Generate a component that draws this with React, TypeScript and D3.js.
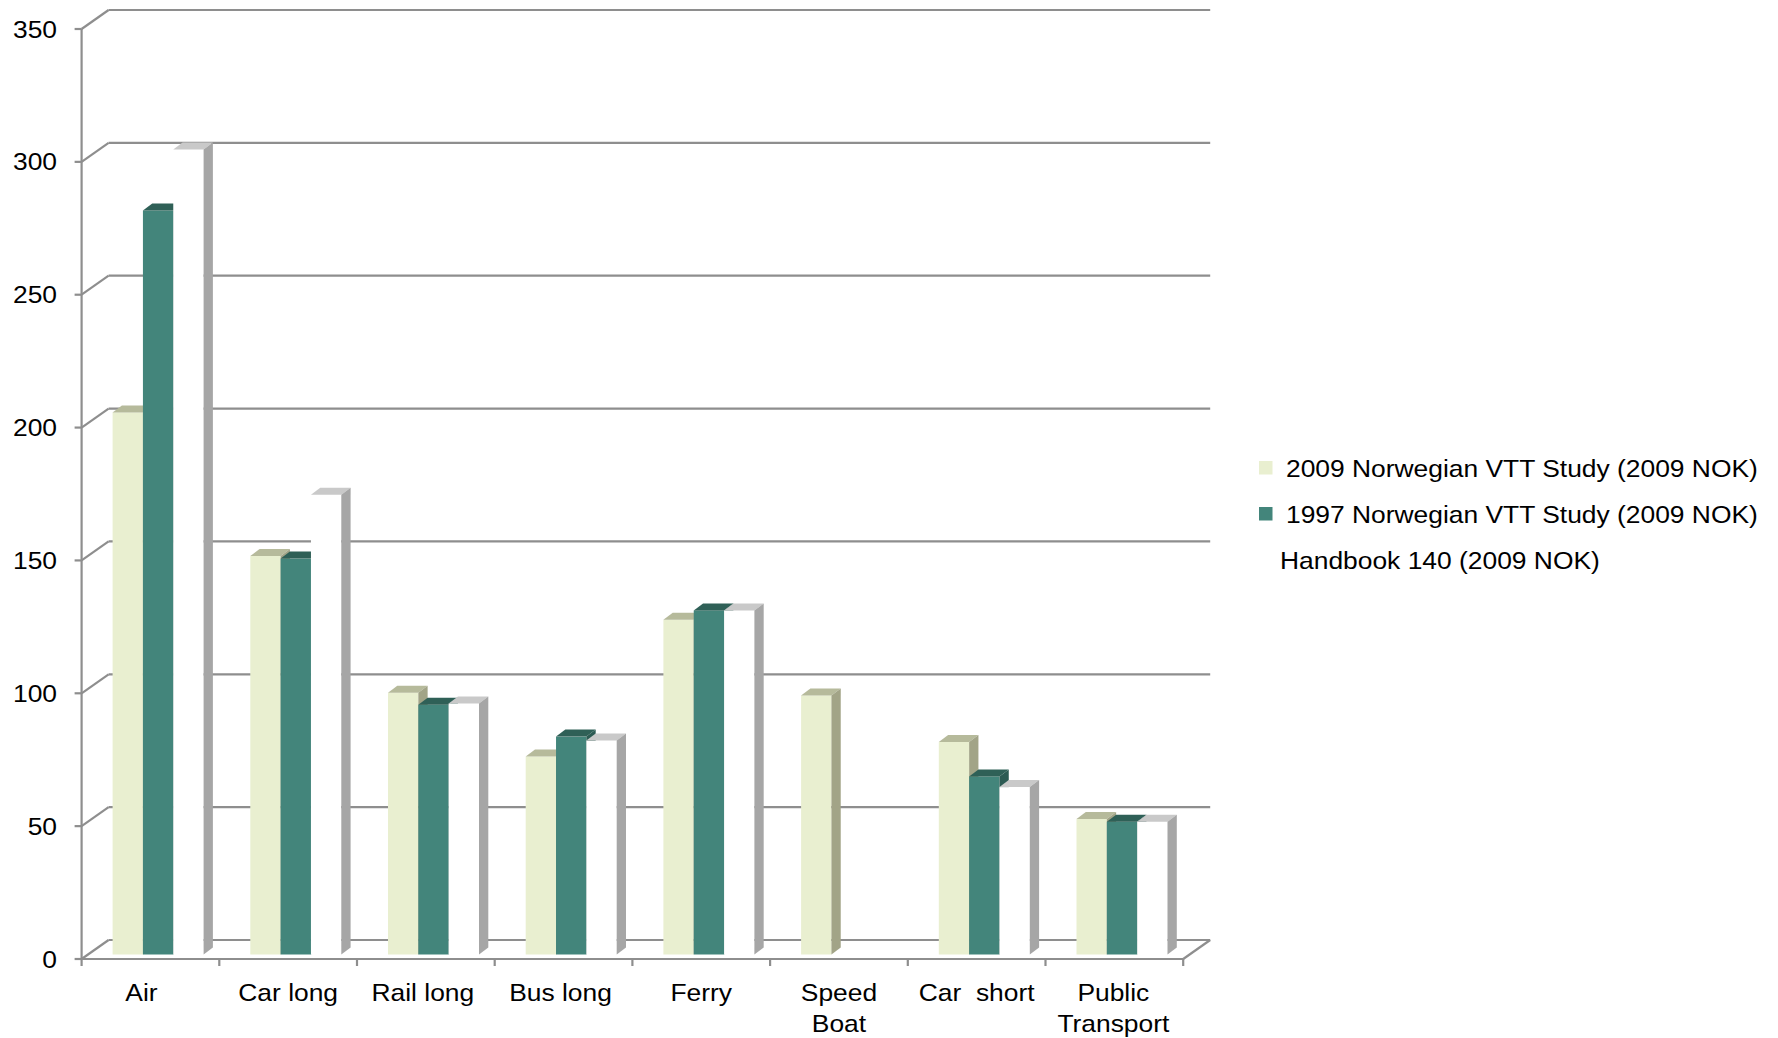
import React from "react";
import * as d3 from "d3";

const categories = ["Air", "Car long", "Rail long", "Bus long", "Ferry", "Speed Boat", "Car  short", "Public Transport"];
const categoryLabelLines = [["Air"], ["Car long"], ["Rail long"], ["Bus long"], ["Ferry"], ["Speed", "Boat"], ["Car  short"], ["Public", "Transport"]];
const categoryLabelNudge = [-9, 0, -3, -3, 0, 0, 0, -1];
const seriesNames = ["2009 Norwegian VTT Study (2009 NOK)", "1997 Norwegian VTT Study (2009 NOK)", "Handbook 140 (2009 NOK)"];
const vtt2009 = [204, 150, 98.5, 74.5, 126, 97.5, 80, 51];
const vtt1997 = [280, 149, 94, 82, 129.5, null, 67, 50];
const handbook140 = [303, 173, 94.5, 80.5, 129.5, null, 63, 50];
const yTicks = [0, 50, 100, 150, 200, 250, 300, 350];

const seriesValues = [vtt2009, vtt1997, handbook140];
const seriesColors = [
  { front: "#e9efd0", top: "#b6ba9b", side: "#a2a487" },
  { front: "#43857b", top: "#2f6057", side: "#2c5b53" },
  { front: "#ffffff", top: "#c9c9c9", side: "#a6a6a6" },
];

const W = 1778;
const H = 1038;
const FONT = "'Liberation Sans', Arial, sans-serif";
const FS = 24;
const SX = 1.1;
const GRID = "#8e8e8e";

const xScale = d3.scaleBand<string>().domain(categories).range([81.6, 1183.2]).paddingInner(0).paddingOuter(0);
const yScale = d3.scaleLinear().domain([0, 350]).range([959, 29]);
const sBand = d3.scaleBand<string>().domain(seriesNames).range([0, 91]);

const WDX = 27, WDY = -19; // wall depth
const BDX = 9.3, BDY = -7; // bar depth
const BAR_INSET = 31;
const BAR_LIFT = -4.5;

function T({ x, y, anchor = "start", children }: any) {
  return (
    <g transform={`translate(${x},${y}) scale(${SX},1)`}>
      <text x={0} y={0} textAnchor={anchor} fontFamily={FONT} fontSize={FS} fill="#000" style={{ whiteSpace: "pre" }}>
        {children}
      </text>
    </g>
  );
}

export default function App() {
  const xL = xScale.range()[0];
  const xR = xScale.range()[1];
  const y0 = yScale(0);

  const bars: any[] = [];
  categories.forEach((c, ci) => {
    seriesNames.forEach((s, si) => {
      const v = seriesValues[si][ci];
      if (v == null) return;
      const bx = (xScale(c) as number) + BAR_INSET + (sBand(s) as number);
      const w = sBand.bandwidth();
      const yt = yScale(v) + BAR_LIFT;
      const yb = y0 + BAR_LIFT;
      const col = seriesColors[si];
      bars.push(
        <g key={`${ci}-${si}`}>
          <rect x={bx} y={yt} width={w} height={yb - yt} fill={col.front} />
          <polygon points={`${bx},${yt} ${bx + BDX},${yt + BDY} ${bx + w + BDX},${yt + BDY} ${bx + w},${yt}`} fill={col.top} />
          <polygon points={`${bx + w},${yt} ${bx + w + BDX},${yt + BDY} ${bx + w + BDX},${yb + BDY} ${bx + w},${yb}`} fill={col.side} />
        </g>
      );
    });
  });

  return (
    <svg width={W} height={H} style={{ position: "absolute", left: 0, top: 0, background: "#fff" }}>
      {yTicks.map((t) => (
        <g key={t}>
          <line x1={xL + WDX} x2={xR + WDX} y1={yScale(t) + WDY} y2={yScale(t) + WDY} stroke={GRID} strokeWidth={2.2} />
          <line x1={xL} x2={xL + WDX} y1={yScale(t)} y2={yScale(t) + WDY} stroke={GRID} strokeWidth={2.2} />
          <line x1={xL - 7} x2={xL} y1={yScale(t)} y2={yScale(t)} stroke={GRID} strokeWidth={2.2} />
          <T x={57} y={yScale(t) + 8.6} anchor="end">{String(t)}</T>
        </g>
      ))}
      <line x1={xL} x2={xL} y1={yScale(350)} y2={y0 + 1} stroke={GRID} strokeWidth={2.2} />
      <line x1={xL} x2={xR} y1={y0} y2={y0} stroke={GRID} strokeWidth={2.2} />
      <line x1={xR} x2={xR + WDX} y1={y0} y2={y0 + WDY} stroke={GRID} strokeWidth={2.2} />
      {categories.map((c) => (
        <line key={c} x1={xScale(c) as number} x2={xScale(c) as number} y1={y0} y2={y0 + 7} stroke={GRID} strokeWidth={2.2} />
      ))}
      <line x1={xR} x2={xR} y1={y0} y2={y0 + 7} stroke={GRID} strokeWidth={2.2} />
      {bars}
      {categories.map((c, i) => {
        const cx = (xScale(c) as number) + xScale.bandwidth() / 2 + categoryLabelNudge[i];
        return categoryLabelLines[i].map((ln, k) => (
          <T key={`${c}-${k}`} x={cx} y={1001 + k * 31} anchor="middle">{ln}</T>
        ));
      })}
      {seriesNames.map((s, i) => {
        const cy = 468 + i * 46;
        return (
          <g key={s}>
            <rect x={1259} y={cy - 7} width={13.5} height={13.5} fill={seriesColors[i].front} />
            <T x={i === 2 ? 1280 : 1286} y={cy + 8.6}>{s}</T>
          </g>
        );
      })}
    </svg>
  );
}
